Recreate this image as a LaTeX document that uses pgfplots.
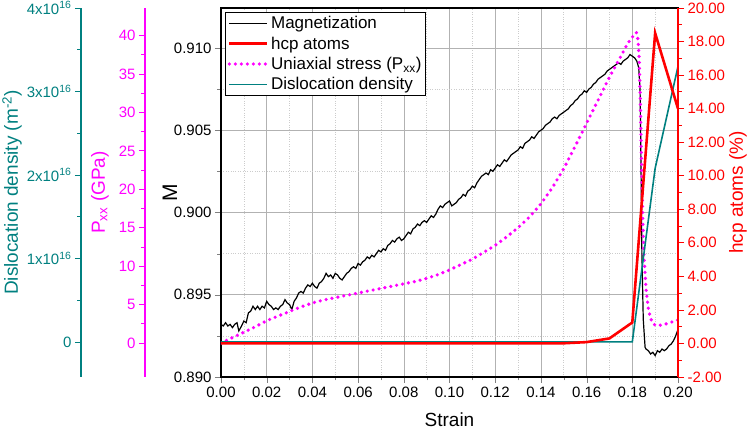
\documentclass[border=0pt]{standalone}
\usepackage{fontspec}
\setmainfont{Liberation Sans}
\usepackage{pgfplots}
\pgfplotsset{compat=1.18}
\definecolor{tealc}{RGB}{0,128,128}
\definecolor{mag}{RGB}{255,0,255}
\begin{document}
\begin{tikzpicture}
\useasboundingbox (-221pt,-53pt) rectangle (529pt,377pt);
\pgfplotsset{every axis/.append style={
  scale only axis, width=457pt, height=369pt, xmin=0, xmax=0.2,
  /pgf/number format/assume math mode=true,
  tick label style={font=\fontsize{15}{15}\selectfont},
  label style={font=\fontsize{19}{19}\selectfont},
  major tick length=6pt, minor tick length=3.5pt, tick align=outside,
  scaled ticks=false,
}}
% main axis: magnetization
\begin{axis}[
  ymin=0.890, ymax=0.91243,
  axis line style={line width=1.1pt},
  xtick={0,0.02,0.04,0.06,0.08,0.10,0.12,0.14,0.16,0.18,0.20},
  ytick={0.890,0.895,0.900,0.905,0.910},
  minor x tick num=1, minor y tick num=1,
  grid=both,
  major grid style={gray!60, line width=0.6pt},
  minor grid style={gray!40, dotted, line width=0.6pt},
  xticklabel style={/pgf/number format/.cd, fixed, fixed zerofill, precision=2},
  yticklabel style={/pgf/number format/.cd, fixed, fixed zerofill, precision=3},
  xtick pos=left, ytick pos=left,
  xlabel={Strain}, ylabel={M},
  xlabel style={at={(axis description cs:0.5,-0.117)}, anchor=center},
  ylabel style={at={(axis description cs:-0.112,0.5)}, anchor=center, font=\fontsize{21}{21}\selectfont},
]
\addplot[black, line width=1.2pt] coordinates {
(0.000,0.8932)(0.001,0.8931)(0.002,0.8933)(0.003,0.8931)(0.004,0.8932)(0.005,0.8930)(0.006,0.8932)(0.007,0.8933)(0.0078,0.8928)
(0.009,0.8931)(0.010,0.8934)(0.011,0.8933)(0.012,0.8939)(0.013,0.8940)(0.014,0.8943)(0.015,0.8941)(0.016,0.8943)(0.017,0.8941)
(0.018,0.8943)(0.019,0.8942)(0.020,0.8946)(0.021,0.8944)(0.022,0.8943)(0.023,0.8941)(0.024,0.8942)(0.025,0.8941)(0.026,0.8943)
(0.027,0.8944)(0.028,0.8947)(0.029,0.8945)(0.030,0.8944)(0.031,0.8941)(0.032,0.8946)(0.033,0.8948)(0.034,0.8951)(0.035,0.8952)
(0.036,0.8951)(0.037,0.8954)(0.038,0.8956)(0.039,0.8955)(0.040,0.8957)(0.041,0.8955)(0.042,0.8954)(0.043,0.8957)(0.044,0.8958)
(0.045,0.8960)(0.046,0.8963)(0.047,0.8961)(0.048,0.8962)(0.049,0.8960)(0.050,0.8963)(0.051,0.8962)(0.052,0.8960)(0.053,0.8959)
(0.054,0.8961)(0.055,0.8963)(0.056,0.8964)(0.057,0.8966)(0.058,0.8967)(0.059,0.8966)(0.060,0.8969)(0.061,0.8968)(0.062,0.8970)
(0.063,0.8971)(0.064,0.8973)(0.065,0.8972)(0.066,0.8974)(0.067,0.8973)(0.068,0.8975)(0.069,0.8977)(0.070,0.8976)(0.071,0.8978)
(0.072,0.8977)(0.073,0.8980)(0.074,0.8981)(0.075,0.8983)(0.076,0.8982)(0.077,0.8984)(0.078,0.8985)(0.079,0.8983)(0.080,0.8984)
(0.081,0.8986)(0.082,0.8988)(0.083,0.8987)(0.084,0.8990)(0.085,0.8991)(0.086,0.8993)(0.087,0.8992)(0.088,0.8994)(0.089,0.8995)
(0.090,0.8994)(0.091,0.8996)(0.092,0.8998)(0.093,0.8997)(0.094,0.8999)(0.095,0.9002)(0.096,0.9004)(0.097,0.9003)(0.098,0.9005)
(0.099,0.9006)(0.100,0.9007)(0.101,0.9004)(0.102,0.9005)(0.103,0.9006)(0.104,0.9008)(0.105,0.9009)(0.106,0.9011)(0.107,0.9010)
(0.108,0.9013)(0.109,0.9014)(0.110,0.9016)(0.111,0.9015)(0.112,0.9018)(0.113,0.9020)(0.114,0.9022)(0.115,0.9023)(0.116,0.9024)
(0.117,0.9023)(0.118,0.9026)(0.119,0.9025)(0.120,0.9027)(0.121,0.9029)(0.122,0.9028)(0.123,0.9030)(0.124,0.9032)(0.125,0.9031)
(0.126,0.9033)(0.127,0.9035)(0.128,0.9036)(0.129,0.9037)(0.130,0.9038)(0.131,0.9040)(0.132,0.9039)(0.133,0.9042)(0.134,0.9043)
(0.135,0.9044)(0.136,0.9046)(0.137,0.9045)(0.138,0.9047)(0.139,0.9049)(0.140,0.9050)(0.141,0.9051)(0.142,0.9053)(0.143,0.9054)
(0.144,0.9055)(0.145,0.9057)(0.146,0.9058)(0.147,0.9057)(0.148,0.9059)(0.149,0.9060)(0.150,0.9061)(0.151,0.9062)(0.152,0.9063)
(0.153,0.9065)(0.154,0.9066)(0.155,0.9068)(0.156,0.9069)(0.157,0.9071)(0.158,0.9072)(0.159,0.9074)(0.160,0.9073)(0.161,0.9075)
(0.162,0.9076)(0.163,0.9078)(0.164,0.9079)(0.165,0.9081)(0.166,0.9082)(0.167,0.9083)(0.168,0.9084)(0.169,0.9086)(0.170,0.9087)
(0.171,0.9088)(0.172,0.9089)(0.173,0.9090)(0.174,0.9091)(0.175,0.9090)(0.176,0.9092)(0.177,0.9093)(0.178,0.9094)(0.179,0.9096)
(0.180,0.9095)(0.181,0.9094)(0.182,0.9092)(0.1828,0.9088)(0.1834,0.9075)(0.1838,0.9030)(0.1842,0.8975)(0.1848,0.8935)
(0.1856,0.8918)(0.186,0.8917)(0.187,0.8916)(0.188,0.8914)(0.189,0.8915)(0.190,0.8913)(0.191,0.8916)(0.192,0.8915)(0.193,0.8917)
(0.194,0.8916)(0.195,0.8917)(0.196,0.8919)(0.197,0.8920)(0.198,0.8922)(0.199,0.8925)(0.200,0.8929)
};
\end{axis}
% Pxx axis
\begin{axis}[
  ymin=-4.43, ymax=43.6,
  axis x line=none, axis y line*=left, axis y line shift=76pt,
  y axis line style={mag, line width=1.1pt},
  ytick={0,5,10,15,20,25,30,35,40}, minor y tick num=1,
  yticklabel style={mag}, every tick/.style={mag, line width=0.8pt},
  ylabel={P\textsubscript{xx} (GPa)},
  ylabel style={mag, at={(axis description cs:-0.265,0.5)}, anchor=center},
]
\addplot[mag, line width=3.6pt, dash pattern=on 0pt off 6pt, line cap=round] coordinates {
(0.000,0.0)(0.005,0.7)(0.010,1.4)(0.015,2.1)(0.020,2.9)(0.025,3.5)(0.030,4.1)(0.035,4.7)(0.040,5.2)
(0.045,5.6)(0.050,5.9)(0.055,6.2)(0.060,6.5)(0.065,6.8)(0.070,7.1)(0.075,7.4)(0.080,7.7)(0.085,8.0)
(0.090,8.4)(0.095,8.9)(0.100,9.5)(0.105,10.2)(0.110,10.9)(0.115,11.8)(0.120,12.7)(0.125,13.8)(0.130,15.0)
(0.135,16.4)(0.140,18.1)(0.145,20.2)(0.150,22.7)(0.155,25.6)(0.160,28.6)(0.165,31.6)(0.170,34.6)(0.175,37.3)
(0.178,39.0)(0.180,39.8)(0.181,40.3)(0.1818,40.4)(0.1825,39.5)(0.183,37.0)(0.1835,32.0)(0.184,24.0)(0.1845,17.0)
(0.185,12.0)(0.186,7.0)(0.187,4.5)(0.188,3.2)(0.189,2.6)(0.190,2.3)(0.192,2.3)(0.194,2.4)(0.196,2.6)(0.198,2.8)(0.200,3.0)
};
\end{axis}
% dislocation axis (values in 1e16 m^-2)
\begin{axis}[
  ymin=-0.42, ymax=4.0,
  axis x line=none, axis y line*=left, axis y line shift=140pt,
  y axis line style={tealc, line width=1.1pt},
  ytick={0,1,2,3,4}, minor y tick num=1,
  yticklabels={0,1x10\textsuperscript{16},2x10\textsuperscript{16},3x10\textsuperscript{16},4x10\textsuperscript{16}},
  yticklabel style={tealc}, every tick/.style={tealc, line width=0.8pt},
  ylabel={Dislocation density (m\textsuperscript{-2})},
  ylabel style={tealc, at={(axis description cs:-0.457,0.5)}, anchor=center},
]
\addplot[tealc, line width=1.6pt] coordinates {
(0.00,0)(0.01,0)(0.02,0)(0.03,0)(0.04,0)(0.05,0)(0.06,0)(0.07,0)(0.08,0)(0.09,0)(0.10,0)
(0.11,0)(0.12,0)(0.13,0)(0.14,0)(0.15,0)(0.16,0)(0.17,0)(0.18,0)(0.19,2.08)(0.20,3.30)
};
\end{axis}
% hcp axis with legend
\begin{axis}[
  ymin=-2, ymax=20,
  axis x line=none, axis y line*=right,
  y axis line style={red, line width=1.8pt},
  ytick={-2,0,2,4,6,8,10,12,14,16,18,20}, minor y tick num=1,
  yticklabel style={red, /pgf/number format/.cd, fixed, fixed zerofill, precision=2},
  every tick/.style={red, line width=0.8pt},
  ylabel={hcp atoms (\%)},
  ylabel style={red, at={(axis description cs:1.131,0.5)}, anchor=center},
  legend style={at={(axis description cs:0.009,0.989)}, anchor=north west,
    draw=black, line width=0.8pt, fill=white, font=\fontsize{17}{19}\selectfont,
    inner xsep=2pt, inner ysep=2pt, row sep=2.5pt},
  legend cell align=left,
  legend image code/.code={\draw[#1] (0pt,0pt) -- (38pt,0pt);},
]
\addlegendimage{black, line width=1.2pt}
\addlegendentry{Magnetization}
\addplot[red, line width=2.6pt] coordinates {
(0.00,0)(0.01,0)(0.02,0)(0.03,0)(0.04,0)(0.05,0)(0.06,0)(0.07,0)(0.08,0)(0.09,0)(0.10,0)
(0.11,0)(0.12,0)(0.13,0)(0.14,0)(0.15,0.01)(0.16,0.08)(0.17,0.3)(0.18,1.25)(0.19,18.5)(0.20,14.0)
};
\addlegendentry{hcp atoms}
\addlegendimage{mag, line width=3.6pt, dash pattern=on 0pt off 6pt, line cap=round}
\addlegendentry{Uniaxial stress (P\textsubscript{xx})}
\addlegendimage{tealc, line width=1.6pt}
\addlegendentry{Dislocation density}
\end{axis}
\end{tikzpicture}
\end{document}
